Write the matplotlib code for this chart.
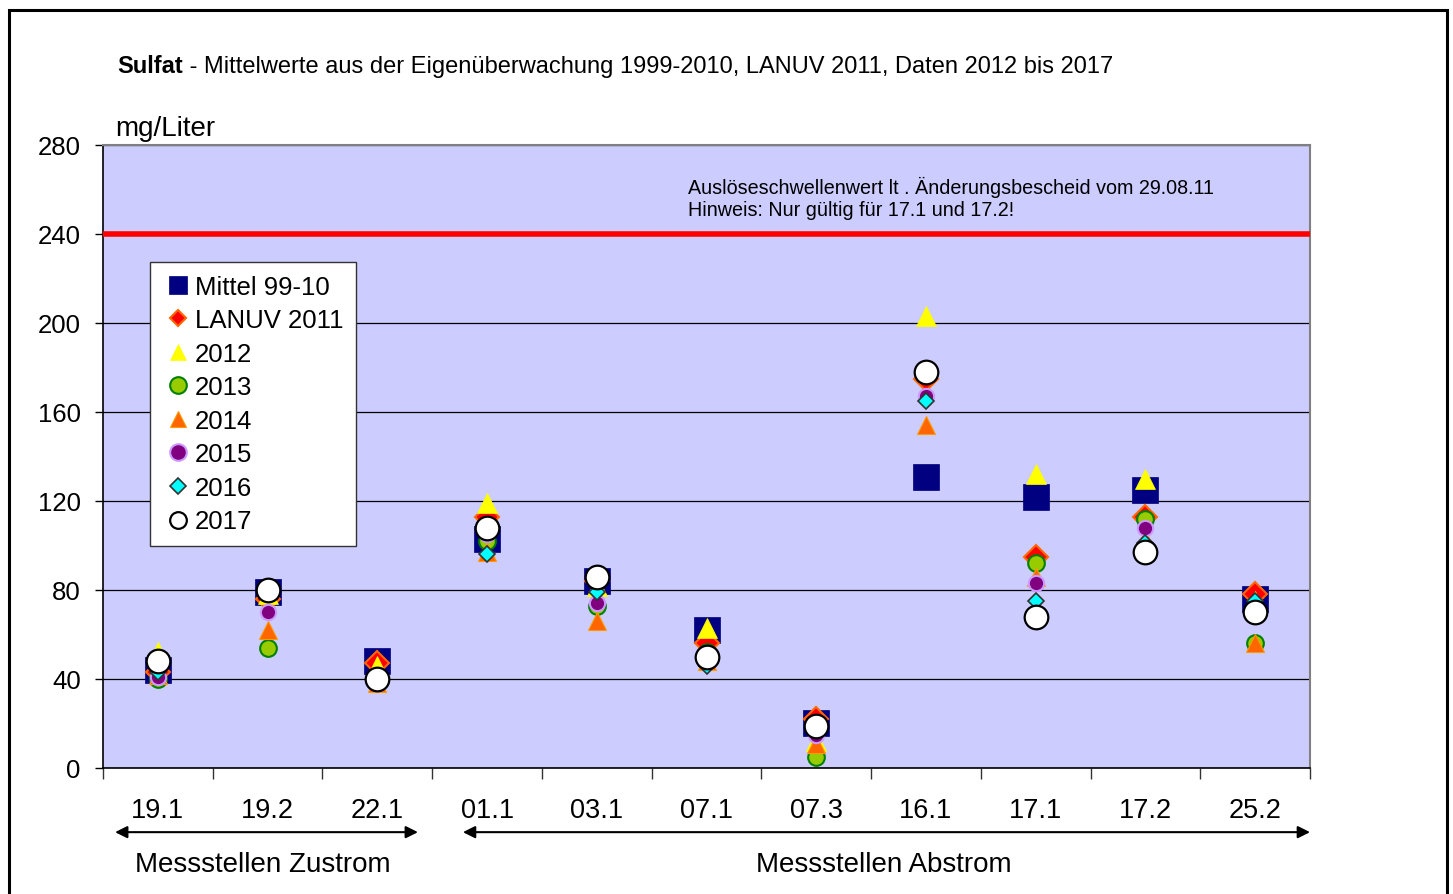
import matplotlib
matplotlib.use('Agg')
import matplotlib.pyplot as plt
from matplotlib.patches import Rectangle
from matplotlib.transforms import blended_transform_factory

plt.rcParams['font.family'] = ['Liberation Sans', 'DejaVu Sans']

# Messstellen
cats = ['19.1', '19.2', '22.1', '01.1', '03.1', '07.1', '07.3', '16.1', '17.1', '17.2', '25.2']
# Sulfat in mg/Liter
mittel = [44, 79, 48, 103, 84, 62, 20, 131, 122, 125, 76]
lanuv = [43, 76, 47, 113, 84, 56, 22, 175, 95, 113, 78]
y2012 = [52, 78, 46, 119, 82, 63, 12, 203, 132, 130, 75]
y2013 = [40, 54, 40, 102, 73, 52, 5, 178, 92, 112, 56]
y2014 = [42, 62, 38, 97, 66, 48, 11, 154, 86, 103, 56]
y2015 = [41, 70, 40, 105, 74, 51, 15, 167, 83, 108, 72]
y2016 = [43, 78, 40, 96, 79, 46, 18, 165, 75, 101, 75]
y2017 = [48, 80, 40, 108, 86, 50, 19, 178, 68, 97, 70]
schwelle = 240

fig = plt.figure(figsize=(14.53, 8.95), dpi=100)
ax = fig.add_axes([0.0709, 0.1408, 0.8307, 0.6961])
ax.set_facecolor('#CCCCFF')

xs = range(len(cats))
# series: values, label, marker, size, face, edge, edge width
series = [
    (mittel, 'Mittel 99-10', 's', 19, '#000080', '#000080', 0.5),
    (lanuv, 'LANUV 2011', 'D', 12, '#FF0000', '#FF6600', 1.5),
    (y2012, '2012', '^', 15, '#FFFF00', '#FFFF00', 0.5),
    (y2013, '2013', 'o', 12, '#99CC00', '#008000', 1.5),
    (y2014, '2014', '^', 12.5, '#FF6600', '#FF9900', 0.8),
    (y2015, '2015', 'o', 11, '#800080', '#CC99FF', 1.5),
    (y2016, '2016', 'D', 8, '#00FFFF', '#333333', 1.2),
    (y2017, '2017', 'o', 17, '#FFFFFF', '#000000', 1.6),
]
handles = []
for i, (vals, lab, m, ms, fc, ec, ew) in enumerate(series):
    h, = ax.plot(xs, vals, ls='none', marker=m, ms=ms, mfc=fc, mec=ec, mew=ew,
                 label=lab, zorder=5 + i)
    handles.append(h)

ax.axhline(schwelle, color='#FF0000', lw=4, zorder=4)

ax.set_ylim(0, 280)
ax.set_xlim(-0.5, len(cats) - 0.5)
ax.set_yticks(range(0, 281, 40))
ax.set_xticks(list(xs))
ax.set_xticklabels(cats)
ax.set_xticks([i - 0.5 for i in range(len(cats) + 1)], minor=True)
ax.tick_params(axis='x', which='major', length=0, pad=21, labelsize=19.5)
ax.tick_params(axis='x', which='minor', length=8, width=1, color='#333333')
ax.tick_params(axis='y', length=6, width=1, pad=10, labelsize=18.5)
ax.yaxis.grid(True, color='#000000', lw=0.9, zorder=1)
ax.set_axisbelow(True)
for s in ['top', 'right']:
    ax.spines[s].set_color('#808080')
    ax.spines[s].set_linewidth(1.5)
for s in ['left', 'bottom']:
    ax.spines[s].set_color('#000000')
    ax.spines[s].set_linewidth(1.2)

leg = ax.legend(handles=handles, loc='upper left', bbox_to_anchor=(0.039, 0.812),
                borderaxespad=0, fontsize=18.5, frameon=True, fancybox=False,
                handlelength=1.2, handletextpad=0.05, labelspacing=0.37,
                borderpad=0.5, framealpha=1)
leg.get_frame().set_edgecolor('#333333')
leg.get_frame().set_linewidth(1.0)
leg.set_zorder(20)
# legend symbols all about the same size
leg_ms = {'s': 12.5, 'D': 8.5, '^': 12, 'o': 12}
for lh in leg.legend_handles:
    lh.set_markersize(leg_ms[lh.get_marker()])

ax.text(4.83, 266, u'Auslöseschwellenwert lt . Änderungsbescheid vom 29.08.11\n'
        u'Hinweis: Nur gültig für 17.1 und 17.2!', fontsize=14.2, va='top',
        ha='left', linespacing=1.2, zorder=6)

# title: bold word followed by normal text
t = fig.text(117 / 1453, 1 - 73 / 895, 'Sulfat', fontsize=17, fontweight='bold')
ax.annotate(u' - Mittelwerte aus der Eigenüberwachung 1999-2010, LANUV 2011, Daten 2012 bis 2017',
            xy=(1, 0), xycoords=t, va='bottom', ha='left', fontsize=17,
            annotation_clip=False)
fig.text(115 / 1453, 1 - 136 / 895, 'mg/Liter', fontsize=20)

# Zustrom / Abstrom arrows
tr = blended_transform_factory(ax.transData, ax.transAxes)
ax.annotate('', xy=(-0.39, -0.103), xytext=(2.37, -0.103), xycoords=tr, textcoords=tr,
            arrowprops=dict(arrowstyle='<|-|>', color='black', lw=1.5, mutation_scale=18,
                            shrinkA=0, shrinkB=0), annotation_clip=False)
ax.annotate('', xy=(2.78, -0.103), xytext=(10.5, -0.103), xycoords=tr, textcoords=tr,
            arrowprops=dict(arrowstyle='<|-|>', color='black', lw=1.5, mutation_scale=18,
                            shrinkA=0, shrinkB=0), annotation_clip=False)
ax.text(0.96, -0.154, 'Messstellen Zustrom', transform=tr, fontsize=20,
        ha='center', va='center')
ax.text(6.62, -0.154, 'Messstellen Abstrom', transform=tr, fontsize=20,
        ha='center', va='center')

# outer frame
fig.patches.append(Rectangle((9 / 1453, -0.01), 1438 / 1453, 1 - 11 / 895 + 0.01,
                             transform=fig.transFigure, fill=False, ec='black', lw=2.2))

fig.savefig('out.png', dpi=100)
